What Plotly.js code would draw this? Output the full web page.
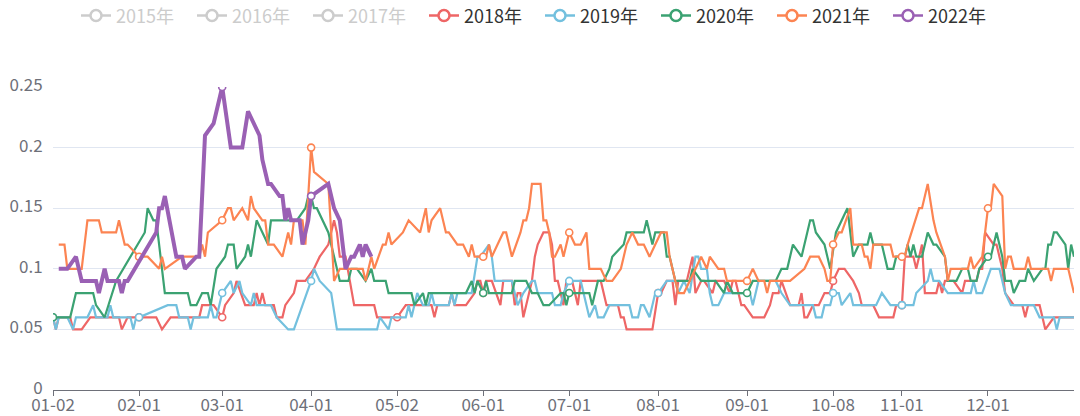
<!DOCTYPE html>
<html><head><meta charset="utf-8">
<script src="https://cdn.plot.ly/plotly-3.0.1.min.js"></script>
<style>html,body{margin:0;padding:0;background:#fff}#chart{width:1080px;height:416px}</style>
</head><body><div id="chart"></div>
<script>
// ---- tick labels shown on the x axis ----
const tickLabels = ["01-02","02-01","03-01","04-01","05-02","06-01","07-01","08-01","09-01","10-08","11-01","12-01"];
// ---- MM-DD categories: union of trading days (all calendar days except fixed holidays) ----
const monthDays = [31,29,31,30,31,30,31,31,30,31,30,31];
const closedDays = ["01-01","05-01","10-01","10-02","10-03","10-04","10-05","10-06","10-07"];

// ---- legend names ----
const seriesNames = ["2015年","2016年","2017年","2018年","2019年","2020年","2021年","2022年"];
const hiddenNames = ["2015年","2016年","2017年"];

// ---- 2018 ----
const d2018 = ["01-02","01-03","01-04","01-08","01-09","01-12","01-15","01-25","01-26","01-28","02-01","02-07","02-09","02-12","02-22","02-23","02-27","03-01","03-02","03-05","03-06","03-09","03-12","03-13","03-14","03-15","03-16","03-19","03-20","03-22","03-23","03-26","03-27","03-30","04-02","04-04","04-07","04-09","04-10","04-11","04-13","04-16","04-23","04-24","04-30","05-02","05-05","05-14","05-15","05-16","05-20","05-21","05-22","05-26","05-29","05-30","05-31","06-01","06-02","06-04","06-07","06-08","06-11","06-12","06-13","06-14","06-15","06-17","06-18","06-19","06-20","06-22","06-24","06-25","06-26","06-27","06-28","06-29","06-30","07-02","07-04","07-05","07-12","07-13","07-14","07-18","07-19","07-20","07-21","07-30","08-01","08-02","08-04","08-06","08-07","08-08","08-11","08-13","08-14","08-16","08-17","08-20","08-21","08-24","08-26","08-27","08-28","08-30","08-31","09-03","09-07","09-09","09-10","09-12","09-13","09-16","09-19","09-20","09-21","09-22","09-24","09-26","09-28","09-30","10-08","10-10","10-12","10-15","10-17","10-18","10-22","10-24","10-29","10-30","11-01","11-02","11-05","11-06","11-07","11-08","11-09","11-13","11-14","11-15","11-16","11-19","11-22","11-23","11-27","11-28","11-29","11-30","12-03","12-04","12-05","12-06","12-07","12-10","12-13","12-14","12-15","12-19","12-20","12-21","12-24","12-31"];
const v2018 = [0.06,0.05,0.06,0.06,0.05,0.05,0.06,0.06,0.05,0.06,0.06,0.06,0.05,0.06,0.06,0.07,0.07,0.06,0.07,0.08,0.09,0.07,0.07,0.08,0.07,0.08,0.07,0.07,0.06,0.06,0.07,0.08,0.09,0.09,0.10,0.11,0.12,0.14,0.13,0.11,0.11,0.07,0.07,0.06,0.06,0.06,0.07,0.07,0.06,0.07,0.07,0.08,0.07,0.07,0.08,0.09,0.09,0.08,0.09,0.09,0.07,0.09,0.09,0.07,0.08,0.08,0.06,0.08,0.09,0.11,0.12,0.13,0.13,0.12,0.09,0.09,0.08,0.07,0.09,0.09,0.07,0.09,0.09,0.08,0.07,0.07,0.06,0.06,0.05,0.05,0.08,0.08,0.09,0.09,0.07,0.09,0.09,0.11,0.08,0.09,0.09,0.08,0.09,0.09,0.08,0.09,0.09,0.07,0.07,0.06,0.06,0.07,0.08,0.08,0.09,0.07,0.07,0.08,0.06,0.06,0.07,0.07,0.08,0.08,0.09,0.10,0.10,0.09,0.08,0.07,0.07,0.06,0.06,0.07,0.07,0.11,0.11,0.10,0.11,0.12,0.08,0.08,0.09,0.08,0.09,0.09,0.08,0.09,0.09,0.10,0.10,0.13,0.12,0.12,0.11,0.10,0.08,0.07,0.07,0.06,0.07,0.07,0.06,0.05,0.06,0.06];

// ---- 2019 ----
const d2019 = ["01-02","01-03","01-04","01-07","01-09","01-10","01-14","01-16","01-17","01-21","01-22","01-23","01-29","01-30","01-31","02-01","02-11","02-14","02-15","02-18","02-19","02-20","02-25","02-26","02-27","02-28","03-01","03-04","03-05","03-07","03-08","03-11","03-12","03-13","03-18","03-20","03-24","03-26","03-29","04-01","04-02","04-04","04-08","04-10","04-24","04-25","04-28","04-29","05-05","05-06","05-07","05-09","05-11","05-13","05-14","05-15","05-20","05-21","05-22","05-23","05-28","05-30","05-31","06-03","06-04","06-05","06-11","06-12","06-13","06-15","06-18","06-19","06-20","06-25","06-26","06-28","06-29","07-01","07-05","07-07","07-08","07-10","07-11","07-13","07-15","07-22","07-23","07-25","07-26","07-27","07-29","07-31","08-01","08-04","08-07","08-08","08-10","08-12","08-14","08-15","08-16","08-18","08-19","08-20","08-22","08-24","08-31","09-02","09-03","09-05","09-11","09-13","09-16","09-24","09-25","09-27","09-28","09-30","10-08","10-10","10-11","10-14","10-15","10-23","10-25","10-28","11-01","11-05","11-06","11-10","11-11","11-12","11-14","11-17","11-25","11-26","11-27","11-29","12-02","12-05","12-07","12-09","12-17","12-19","12-24","12-25","12-26","12-31"];
const v2019 = [0.06,0.05,0.06,0.06,0.05,0.06,0.06,0.07,0.06,0.06,0.07,0.06,0.06,0.05,0.06,0.06,0.07,0.07,0.06,0.06,0.05,0.06,0.06,0.07,0.06,0.06,0.08,0.09,0.08,0.09,0.08,0.07,0.08,0.07,0.07,0.06,0.05,0.05,0.07,0.09,0.10,0.09,0.08,0.05,0.05,0.06,0.05,0.06,0.06,0.07,0.06,0.08,0.07,0.07,0.08,0.07,0.07,0.08,0.07,0.08,0.08,0.11,0.11,0.12,0.11,0.09,0.09,0.08,0.07,0.08,0.09,0.09,0.08,0.08,0.07,0.07,0.08,0.09,0.09,0.07,0.06,0.07,0.06,0.06,0.07,0.07,0.06,0.06,0.07,0.07,0.06,0.08,0.08,0.09,0.09,0.08,0.09,0.08,0.11,0.11,0.10,0.10,0.08,0.07,0.07,0.08,0.08,0.08,0.07,0.09,0.09,0.08,0.07,0.07,0.06,0.06,0.07,0.07,0.08,0.08,0.07,0.08,0.07,0.07,0.08,0.07,0.07,0.07,0.08,0.09,0.10,0.09,0.09,0.08,0.08,0.09,0.08,0.08,0.10,0.10,0.08,0.07,0.07,0.06,0.06,0.05,0.06,0.06];

// ---- 2020 ----
const d2020 = ["01-02","01-08","01-10","01-16","01-17","01-20","01-24","02-03","02-04","02-06","02-07","02-09","02-10","02-18","02-19","02-21","02-23","02-25","02-26","02-28","03-02","03-03","03-05","03-06","03-09","03-10","03-11","03-13","03-15","03-17","03-18","03-27","03-30","03-31","04-01","04-02","04-03","04-07","04-10","04-11","04-14","04-15","04-17","04-20","04-22","04-23","04-27","04-28","05-07","05-08","05-11","05-12","05-13","05-26","05-28","05-29","05-30","06-01","06-02","06-03","06-11","06-12","06-16","06-18","06-20","06-22","06-24","06-28","06-29","06-30","07-01","07-08","07-09","07-11","07-13","07-15","07-16","07-20","07-21","07-23","07-27","07-28","07-30","07-31","08-03","08-04","08-05","08-07","08-12","08-13","08-16","08-21","08-24","08-25","08-27","09-01","09-03","09-11","09-13","09-15","09-17","09-20","09-23","09-24","09-25","09-28","09-30","10-09","10-11","10-13","10-14","10-15","10-17","10-20","10-21","10-22","10-25","10-26","10-27","10-29","10-30","11-02","11-03","11-04","11-05","11-06","11-08","11-10","11-12","11-13","11-16","11-17","11-20","11-22","11-24","11-25","11-27","11-28","12-01","12-02","12-04","12-06","12-07","12-09","12-10","12-12","12-14","12-15","12-17","12-20","12-21","12-22","12-23","12-24","12-25","12-28","12-29","12-30","12-31"];
const v2020 = [0.06,0.06,0.08,0.08,0.07,0.06,0.09,0.13,0.15,0.14,0.14,0.10,0.08,0.08,0.07,0.07,0.08,0.08,0.07,0.10,0.11,0.12,0.12,0.10,0.11,0.12,0.11,0.14,0.13,0.12,0.14,0.14,0.15,0.16,0.16,0.15,0.15,0.13,0.10,0.09,0.09,0.10,0.10,0.09,0.10,0.09,0.09,0.08,0.08,0.07,0.08,0.07,0.08,0.08,0.09,0.08,0.09,0.08,0.09,0.08,0.08,0.09,0.09,0.08,0.08,0.07,0.07,0.08,0.08,0.07,0.08,0.08,0.07,0.09,0.09,0.10,0.11,0.12,0.13,0.13,0.13,0.14,0.12,0.13,0.13,0.11,0.11,0.09,0.09,0.10,0.09,0.09,0.08,0.09,0.08,0.08,0.09,0.09,0.10,0.10,0.12,0.11,0.14,0.14,0.13,0.12,0.10,0.13,0.14,0.15,0.13,0.11,0.12,0.12,0.13,0.12,0.12,0.11,0.10,0.10,0.11,0.11,0.12,0.11,0.12,0.11,0.11,0.13,0.12,0.12,0.11,0.09,0.09,0.10,0.10,0.09,0.09,0.10,0.11,0.11,0.13,0.11,0.09,0.09,0.08,0.09,0.09,0.10,0.09,0.10,0.10,0.12,0.12,0.13,0.13,0.12,0.10,0.12,0.11];

// ---- 2021 ----
const d2021 = ["01-04","01-06","01-07","01-12","01-13","01-14","01-18","01-19","01-24","01-25","01-27","01-28","02-01","02-04","02-08","02-09","02-10","02-16","02-22","02-23","02-24","02-25","03-01","03-03","03-04","03-05","03-08","03-10","03-11","03-12","03-15","03-16","03-17","03-19","03-22","03-24","03-25","03-26","03-29","03-30","04-01","04-02","04-07","04-09","04-11","04-19","04-20","04-21","04-22","04-23","04-26","04-27","04-28","04-29","05-04","05-06","05-10","05-12","05-13","05-14","05-17","05-19","05-20","05-23","05-25","05-27","05-28","05-29","06-01","06-02","06-03","06-04","06-06","06-08","06-09","06-11","06-14","06-15","06-16","06-17","06-18","06-21","06-22","06-23","06-24","06-25","06-26","06-28","06-29","07-01","07-03","07-05","07-07","07-08","07-12","07-14","07-16","07-19","07-20","07-21","07-23","07-25","07-27","07-29","07-31","08-02","08-04","08-05","08-07","08-08","08-10","08-12","08-14","08-16","08-18","08-19","08-22","08-24","08-25","09-01","09-03","09-05","09-07","09-08","09-09","09-16","09-21","09-23","09-26","09-28","09-29","09-30","10-08","10-10","10-11","10-14","10-15","10-18","10-19","10-20","10-21","10-22","10-28","10-29","11-01","11-02","11-03","11-07","11-08","11-10","11-12","11-13","11-16","11-17","11-18","11-24","11-25","11-26","11-29","12-01","12-02","12-03","12-06","12-07","12-08","12-09","12-10","12-14","12-15","12-16","12-22","12-23","12-24","12-29","12-31"];
const v2021 = [0.12,0.12,0.10,0.10,0.12,0.14,0.14,0.13,0.13,0.14,0.12,0.12,0.11,0.11,0.10,0.11,0.10,0.11,0.11,0.12,0.11,0.13,0.14,0.15,0.15,0.14,0.15,0.14,0.16,0.15,0.14,0.14,0.12,0.12,0.11,0.13,0.12,0.14,0.14,0.12,0.20,0.18,0.17,0.09,0.10,0.10,0.09,0.10,0.11,0.10,0.12,0.12,0.13,0.12,0.13,0.14,0.13,0.15,0.13,0.14,0.15,0.13,0.13,0.12,0.12,0.11,0.12,0.11,0.11,0.11,0.12,0.11,0.12,0.13,0.13,0.11,0.13,0.14,0.14,0.15,0.17,0.17,0.14,0.14,0.13,0.11,0.11,0.12,0.11,0.13,0.12,0.12,0.13,0.10,0.10,0.09,0.09,0.10,0.11,0.12,0.13,0.12,0.12,0.11,0.12,0.13,0.13,0.11,0.09,0.08,0.08,0.09,0.10,0.11,0.10,0.11,0.10,0.10,0.09,0.09,0.10,0.09,0.09,0.08,0.09,0.09,0.10,0.11,0.11,0.10,0.09,0.09,0.12,0.13,0.13,0.15,0.12,0.12,0.11,0.11,0.10,0.12,0.12,0.11,0.11,0.11,0.12,0.15,0.15,0.17,0.14,0.13,0.11,0.09,0.10,0.10,0.11,0.10,0.11,0.15,0.15,0.17,0.16,0.10,0.11,0.11,0.10,0.10,0.11,0.10,0.10,0.09,0.10,0.10,0.08];

// ---- 2022 ----
const d2022 = ["01-04","01-07","01-10","01-12","01-17","01-18","01-20","01-21","01-25","01-26","01-27","01-28","02-07","02-08","02-09","02-10","02-14","02-16","02-17","02-21","02-22","02-24","02-27","03-01","03-04","03-08","03-10","03-12","03-14","03-15","03-17","03-18","03-21","03-22","03-23","03-24","03-25","03-28","03-29","03-31","04-01","04-07","04-09","04-11","04-13","04-15","04-16","04-18","04-19","04-20","04-22"];
const v2022 = [0.10,0.10,0.11,0.09,0.09,0.08,0.10,0.09,0.09,0.08,0.09,0.09,0.13,0.15,0.15,0.16,0.11,0.11,0.10,0.11,0.11,0.21,0.22,0.25,0.20,0.20,0.23,0.22,0.21,0.19,0.17,0.17,0.16,0.16,0.14,0.15,0.14,0.14,0.12,0.14,0.16,0.17,0.15,0.14,0.10,0.11,0.11,0.12,0.11,0.12,0.11];

// ---------------- build ----------------
const categories = [];
for (let m = 1; m <= 12; m++) {
  for (let d = 1; d <= monthDays[m-1]; d++) {
    const lab = String(m).padStart(2,"0") + "-" + String(d).padStart(2,"0");
    if (!closedDays.includes(lab)) categories.push(lab);
  }
}

const palette = {"2015年":"#5470c6","2016年":"#91cc75","2017年":"#fac858","2018年":"#ee6666","2019年":"#73c0de","2020年":"#3ba272","2021年":"#fc8452","2022年":"#9a60b4"};
const seriesData = {"2018年":[d2018,v2018],"2019年":[d2019,v2019],"2020年":[d2020,v2020],"2021年":[d2021,v2021],"2022年":[d2022,v2022]};

const traces = [];
// legend entries
seriesNames.forEach(n => {
  const hidden = hiddenNames.includes(n);
  const c = hidden ? "#cccccc" : palette[n];
  traces.push({
    x:[null], y:[null], type:"scatter", mode:"lines+markers",
    name: hidden ? '<span style="color:#cccccc">'+n+'</span>' : n,
    line:{color:c, width:2.5},
    marker:{symbol:"circle", size:11, color:"#ffffff", line:{color:c, width:2.5}},
    showlegend:true, hoverinfo:"skip"
  });
});
// data lines + symbols at labelled ticks
Object.keys(seriesData).forEach(n => {
  const [dx, vy] = seriesData[n];
  const c = palette[n];
  traces.push({
    x:dx, y:vy, type:"scatter", mode:"lines",
    line:{color:c, width: n === "2022年" ? 4 : 2.2},
    showlegend:false, hoverinfo:"x+y"
  });
  const mx = [], my = [];
  dx.forEach((d,i) => { if (tickLabels.includes(d)) { mx.push(d); my.push(vy[i]); } });
  traces.push({
    x:mx, y:my, type:"scatter", mode:"markers",
    marker:{symbol:"circle", size:7, color:"#ffffff", line:{color:c, width:1.6}},
    showlegend:false, hoverinfo:"skip"
  });
});

const FONT = '"Microsoft YaHei","Noto Sans CJK SC","Noto Sans",sans-serif';
const layout = {
  width:1080, height:416,
  margin:{l:53, r:6, t:87, b:26, pad:0},
  paper_bgcolor:"#ffffff", plot_bgcolor:"#ffffff",
  font:{family:FONT, color:"#6E7079"},
  showlegend:true,
  legend:{
    orientation:"h", xref:"container", x:0.5, xanchor:"center",
    yref:"container", y:0.962, yanchor:"middle",
    font:{family:FONT, size:18, color:"#333333"},
    itemclick:false, itemdoubleclick:false, traceorder:"normal",
    entrywidth:71, bgcolor:"rgba(0,0,0,0)"
  },
  xaxis:{
    type:"category", categoryorder:"array", categoryarray:categories,
    range:[0, categories.length-1],
    tickmode:"array", tickvals:tickLabels, ticktext:tickLabels,
    ticks:"outside", ticklen:5, tickwidth:1, tickcolor:"#6E7079",
    ticklabelstandoff:-5,
    showline:true, linecolor:"#6E7079", linewidth:1,
    showgrid:false, zeroline:false,
    tickfont:{family:FONT, size:17, color:"#6E7079"},
    automargin:false, fixedrange:true
  },
  yaxis:{
    range:[0,0.25], tick0:0, dtick:0.05,
    showgrid:true, gridcolor:"#E0E6F1", gridwidth:1,
    zeroline:false, showline:false,
    ticks:"outside", ticklen:6, tickcolor:"rgba(0,0,0,0)",
    ticklabelshift:-2,
    tickfont:{family:FONT, size:17, color:"#6E7079"},
    automargin:false, fixedrange:true
  },
  hovermode:"closest"
};

Plotly.newPlot("chart", traces, layout, {displayModeBar:false, staticPlot:false});
</script>
</body></html>
